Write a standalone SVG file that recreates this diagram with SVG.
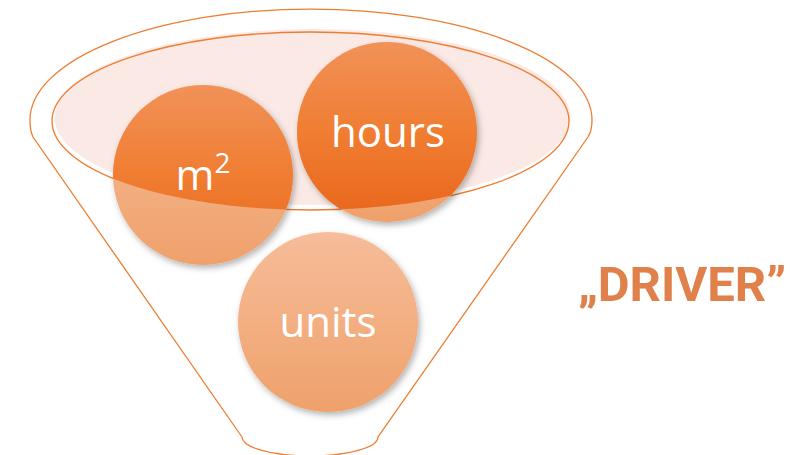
<svg xmlns="http://www.w3.org/2000/svg" width="806" height="455" viewBox="0 0 806 455">
<style>
.funnel{fill:none;stroke:#ed7d31;stroke-width:1.3}
.lbl{font-family:"Open Sans","Liberation Sans",sans-serif;font-size:42px;fill:#ffffff;text-anchor:middle}
.drv{font-family:Roboto,"Liberation Sans",sans-serif;font-weight:bold;font-size:49px;fill:#e0804a}
</style>
<defs>
<linearGradient id="dark" x1="0" y1="0" x2="0" y2="1">
<stop offset="0" stop-color="#f19258"/>
<stop offset="0.5" stop-color="#f07d32"/>
<stop offset="1" stop-color="#e8661a"/>
</linearGradient>
<linearGradient id="light" x1="0" y1="0" x2="0" y2="1">
<stop offset="0" stop-color="#f6bd99"/>
<stop offset="1" stop-color="#efa16b"/>
</linearGradient>
<clipPath id="bowl">
<ellipse cx="310.5" cy="121" rx="258.5" ry="89"/>
</clipPath>
<filter id="sh" x="-20%" y="-20%" width="150%" height="150%">
<feDropShadow dx="2" dy="3" stdDeviation="3" flood-color="#000" flood-opacity="0.3"/>
</filter>
</defs>
<g id="funnel">
<path class="funnel" d="M242,437 L33,137 Q30,131 30,120 A281,111 0 0 1 592,120 Q592,131 588,137 L378,437 A68,19 0 0 1 242,437 Z"/>
<ellipse cx="312.5" cy="117" rx="258" ry="88" fill="#fbe9e5"/>
<ellipse class="funnel" cx="310.5" cy="121" rx="258.5" ry="89"/>
</g>
<g id="node-m2">
<circle cx="203" cy="175" r="90" fill="url(#light)" filter="url(#sh)"/>
<circle cx="203" cy="175" r="90" fill="url(#dark)" clip-path="url(#bowl)"/>
<text class="lbl" x="203" y="190">m<tspan font-size="28" dy="-17">2</tspan></text>
</g>
<g id="node-hours">
<circle cx="387" cy="132" r="90" fill="url(#light)" filter="url(#sh)"/>
<circle cx="387" cy="132" r="90" fill="url(#dark)" clip-path="url(#bowl)"/>
<text class="lbl" x="388" y="147">hours</text>
</g>
<g id="node-units">
<circle cx="328" cy="322" r="90" fill="url(#light)" filter="url(#sh)"/>
<text class="lbl" x="328" y="337">units</text>
</g>
<g id="connectors"/>
<g id="label-driver">
<text class="drv" x="578" y="301">„DRIVER”</text>
</g>
</svg>
